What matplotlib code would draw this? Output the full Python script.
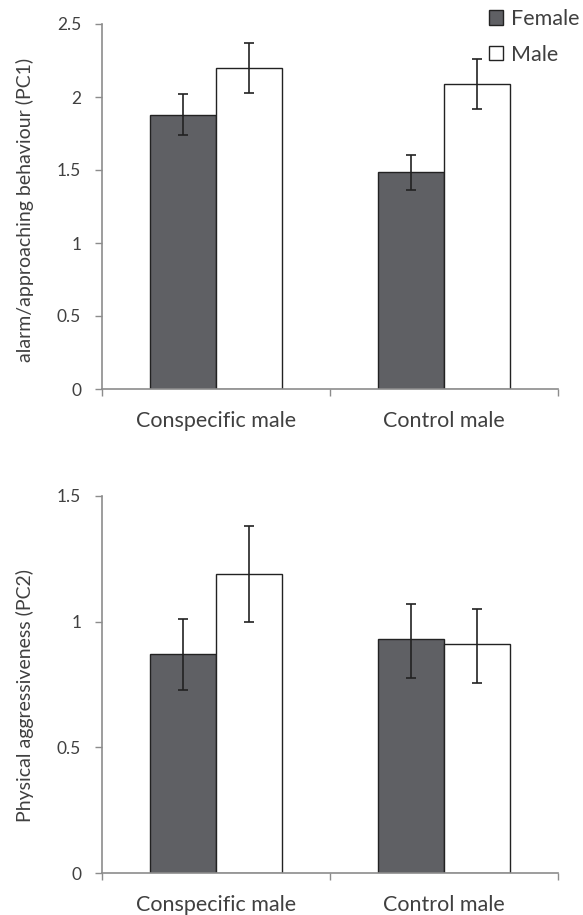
import matplotlib
matplotlib.use("Agg")
import matplotlib.pyplot as plt
import numpy as np
from matplotlib.patches import Patch

plt.rcParams['font.family'] = ['Lato', 'DejaVu Sans']

categories = ["Conspecific male", "Control male"]
series = ["Female", "Male"]

pc1_female = [1.88, 1.485]
pc1_female_lo = [1.74, 1.36]
pc1_female_hi = [2.02, 1.605]
pc1_male = [2.20, 2.09]
pc1_male_lo = [2.025, 1.915]
pc1_male_hi = [2.37, 2.26]

pc2_female = [0.87, 0.93]
pc2_female_lo = [0.73, 0.775]
pc2_female_hi = [1.01, 1.07]
pc2_male = [1.19, 0.91]
pc2_male_lo = [1.0, 0.755]
pc2_male_hi = [1.38, 1.05]

top_yticks = [0, 0.5, 1, 1.5, 2, 2.5]
top_ylabels = ["0", "0.5", "1", "1.5", "2", "2.5"]
bot_yticks = [0, 0.5, 1, 1.5]
bot_ylabels = ["0", "0.5", "1", "1.5"]

W, H = 583, 915
fig = plt.figure(figsize=(W / 100, H / 100), dpi=100)

TXT = "#404040"
SPINE = "#8c8c8c"
FEM = "#5f6064"
EDGE = "#222222"
AX_LEFT, AX_RIGHT = 102, 558

def make_ax(rect, fem, fem_lo, fem_hi, mal, mal_lo, mal_hi, yticks, ylabels, ylim, ylabel, ylabel_y):
    ax = fig.add_axes(rect)
    x = np.arange(len(categories))
    w = 0.29
    ax.bar(x - w / 2, fem, w, color=FEM, edgecolor=EDGE, linewidth=1.0, zorder=2)
    ax.bar(x + w / 2, mal, w, color="white", edgecolor=EDGE, linewidth=1.0, zorder=2)
    fem = np.array(fem); mal = np.array(mal)
    ax.errorbar(x - w / 2, fem, yerr=[fem - np.array(fem_lo), np.array(fem_hi) - fem],
                fmt="none", ecolor="#222222", elinewidth=1.2, capsize=3.8, capthick=1.2, zorder=3)
    ax.errorbar(x + w / 2, mal, yerr=[mal - np.array(mal_lo), np.array(mal_hi) - mal],
                fmt="none", ecolor="#222222", elinewidth=1.2, capsize=3.8, capthick=1.2, zorder=3)
    ax.set_xlim(-0.5, len(categories) - 0.5)
    ax.set_ylim(*ylim)
    ax.set_yticks(yticks)
    ax.set_yticklabels(ylabels)
    ax.set_xticks([-0.5, 0.5, 1.5])
    ax.set_xticklabels([])
    ax.set_xticks(x, minor=True)
    ax.set_xticklabels(categories, minor=True)
    ax.tick_params(axis="x", which="major", length=5, color=SPINE, width=1.0)
    ax.tick_params(axis="x", which="minor", length=0, pad=16, labelsize=15.5, labelcolor=TXT)
    ax.tick_params(axis="y", length=5, color=SPINE, width=1.0, labelsize=12.5, labelcolor=TXT, pad=10)
    for s in ["top", "right"]:
        ax.spines[s].set_visible(False)
    for s in ["left", "bottom"]:
        ax.spines[s].set_color(SPINE)
        ax.spines[s].set_linewidth(1.2)
    ax.spines["bottom"].set_zorder(4)
    ax.set_ylabel(ylabel, fontsize=14, color=TXT, va="center", ha="center")
    ax.yaxis.set_label_coords((25 - AX_LEFT) / (AX_RIGHT - AX_LEFT), ylabel_y)
    ax.set_facecolor("none")
    return ax

ax1 = make_ax([AX_LEFT / W, 1 - 389 / H, (AX_RIGHT - AX_LEFT) / W, (389 - 24) / H],
              pc1_female, pc1_female_lo, pc1_female_hi,
              pc1_male, pc1_male_lo, pc1_male_hi,
              top_yticks, top_ylabels, (0, 2.5), "alarm/approaching behaviour (PC1)",
              (389 - 210) / (389 - 24))
ax2 = make_ax([AX_LEFT / W, 1 - 873 / H, (AX_RIGHT - AX_LEFT) / W, (873 - 496) / H],
              pc2_female, pc2_female_lo, pc2_female_hi,
              pc2_male, pc2_male_lo, pc2_male_hi,
              bot_yticks, bot_ylabels, (0, 1.5), "Physical aggressiveness (PC2)",
              (873 - 695) / (873 - 496))

handles = [Patch(facecolor=FEM, edgecolor=EDGE, linewidth=1.0),
           Patch(facecolor="white", edgecolor=EDGE, linewidth=1.0)]
leg = fig.legend(handles, series, loc="upper right", bbox_to_anchor=(1.003, 0.996),
                 frameon=False, fontsize=15.5, handlelength=0.65, handleheight=0.65,
                 handletextpad=0.35, labelspacing=0.72, labelcolor=TXT,
                 borderaxespad=0.0, borderpad=0.25)

fig.savefig("out.png", dpi=100)
